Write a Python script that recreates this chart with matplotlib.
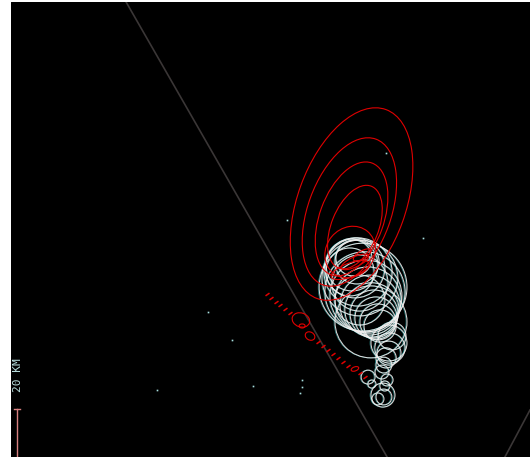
import matplotlib
matplotlib.use('Agg')
import matplotlib.pyplot as plt
from matplotlib.patches import Circle, Ellipse

# storm cell circles (x km, y km, radius km)
cell_x = [142.9, 144.2, 142.1, 143.3, 144.6, 145.4, 145.4, 146.7, 147.5, 147.9,
          145.4, 148.8, 149.6, 150.4, 151.3, 152.1, 152.9, 153.8, 150.0, 157.5,
          157.9, 157.5, 156.3, 155.4, 154.6, 148.8, 156.7, 155.8, 155.0, 155.4,
          152.9, 150.4, 141.3, 158.8]
cell_y = [82.9, 81.3, 80.0, 78.8, 77.1, 74.6, 72.5, 70.8, 68.8, 67.1,
          65.4, 65.4, 63.3, 61.3, 59.6, 57.9, 56.3, 54.6, 56.3, 47.5,
          45.4, 43.3, 41.3, 38.3, 35.4, 33.3, 32.1, 29.6, 25.8, 25.0,
          24.2, 30.4, 77.1, 50.4]
cell_r = [7.5, 9.2, 10.8, 12.5, 14.2, 15.8, 11.7, 18.3, 16.7, 15.0,
          10.4, 13.8, 12.5, 11.3, 10.0, 8.8, 7.5, 6.7, 15.0, 7.5,
          6.3, 5.0, 4.2, 3.3, 2.9, 2.9, 2.5, 2.1, 5.0, 3.3,
          2.5, 1.7, 10.0, 5.8]

# forecast ellipses (x, y, major, minor, angle)
ell_x = [141.9, 141.0, 141.9, 143.3, 141.3, 143.3, 141.3, 146.3, 120.8, 121.3, 124.6, 143.3]
ell_y = [105.4, 102.1, 99.2, 95.8, 85.4, 81.3, 77.9, 84.2, 57.1, 54.6, 50.4, 36.7]
ell_w = [83.8, 64.6, 49.6, 36.7, 22.5, 12.5, 16.7, 8.3, 7.5, 2.5, 4.2, 3.3]
ell_h = [45.0, 34.6, 26.7, 19.6, 20.0, 4.2, 5.8, 3.3, 5.8, 1.7, 3.3, 1.7]
ell_a = [70, 70, 70, 68, 50, 25, 20, 30, -20, 0, -30, 20]

# track ticks
track_x = [106.7, 108.3, 110.4, 112.1, 114.2, 116.3, 127.9, 130.0, 132.1, 134.2,
           136.3, 138.3, 140.4, 145.4, 147.5]
track_y = [67.9, 66.3, 64.6, 63.3, 61.7, 60.0, 47.9, 46.3, 44.6, 42.9,
           41.3, 39.6, 37.9, 35.0, 33.3]

# scattered echoes
dot_x = [82.1, 92.1, 100.8, 60.8, 121.3, 121.3, 120.4, 115.0, 156.3, 171.7]
dot_y = [60.4, 48.8, 29.6, 27.9, 32.1, 29.2, 26.7, 98.8, 126.7, 91.3]

# boundary lines
line1_x = [47.5, 156.7]
line1_y = [190.4, 0.0]
line2_x = [216.25, 205.8]
line2_y = [19.6, 0.0]

fig = plt.figure(figsize=(5.30, 4.57), dpi=100, facecolor='white')
ax = fig.add_axes([11 / 530, 0, 519 / 530, 455 / 457])
ax.set_facecolor('black')
ax.set_xlim(0, 216.25)
ax.set_ylim(0, 189.6)
ax.axis('off')
ax.add_patch(plt.Rectangle((0, 0), 216.25, 189.6, color='black', zorder=0))

ax.plot(line1_x, line1_y, color='#3a3636', lw=1.2, zorder=1)
ax.plot(line2_x, line2_y, color='#3a3636', lw=1.2, zorder=1)

for x, y, r in zip(cell_x, cell_y, cell_r):
    ax.add_patch(Circle((x - 0.4, y), r, fill=False, ec='#30a8a8', lw=0.5, alpha=0.8, zorder=2))
    ax.add_patch(Circle((x, y), r, fill=False, ec='#f4efef', lw=0.75, alpha=0.9, zorder=3))

for x, y, w, h, a in zip(ell_x, ell_y, ell_w, ell_h, ell_a):
    ax.add_patch(Ellipse((x, y), w, h, angle=a, fill=False, ec='#e00000', lw=0.8, zorder=4))

ax.plot(track_x, track_y, ls='none', marker=(2, 0, -55), ms=3.5, mew=1.1,
        color='#e00000', zorder=4)

ax.plot(dot_x, dot_y, ls='none', marker='s', ms=1.2, mew=0, color='#a8e0e0', zorder=3)

# scale bar
ax.plot([2.5, 2.5], [0, 20], color='#d88080', lw=1.0, zorder=5)
ax.plot([1.25, 3.75], [20, 20], color='#d88080', lw=1.0, zorder=5)
ax.text(2.9, 34.2, '20 KM', rotation=90, ha='center', va='center', fontsize=8,
        family='DejaVu Sans Mono', color='#b8dcdc', zorder=5)

fig.savefig('out.png', dpi=100, facecolor='white')
